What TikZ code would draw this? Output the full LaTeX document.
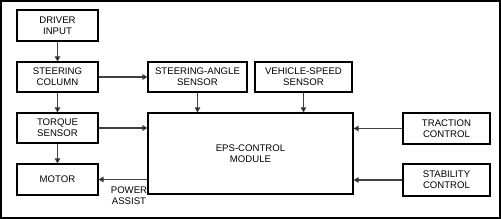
\documentclass[tikz,border=0pt]{standalone}
\usepackage{fontspec}
\setmainfont{Liberation Sans}
\usetikzlibrary{arrows.meta}
\begin{document}
\begin{tikzpicture}[x=1pt,y=-1pt,
  blk/.style={draw=black,line width=1.1pt,align=center,inner sep=0pt,
    font=\fontsize{9.6}{11}\selectfont},
  conn/.style={draw=black!75,line width=1.1pt,-{Triangle[width=5.5pt,length=5pt,fill=black]}}]
\useasboundingbox (0,0) rectangle (501,219);
\draw[line width=1.5pt] (1,1) rectangle (500,218);
\node[blk,minimum width=81pt,minimum height=31pt] (drv) at (57.5,25.5) {DRIVER\\INPUT};
\node[blk,minimum width=81pt,minimum height=30pt] (col) at (57.5,77) {STEERING\\COLUMN};
\node[blk,minimum width=99pt,minimum height=30pt] (sa) at (197.5,77) {STEERING-ANGLE\\SENSOR};
\node[blk,minimum width=97pt,minimum height=30pt] (vs) at (303.5,77) {VEHICLE-SPEED\\SENSOR};
\node[blk,minimum width=81pt,minimum height=30pt] (tq) at (57.5,128) {TORQUE\\SENSOR};
\node[blk,minimum width=81pt,minimum height=31pt] (mot) at (57.5,179.5) {MOTOR};
\node[blk,minimum width=205pt,minimum height=81pt] (eps) at (250.5,153.5) {EPS-CONTROL\\MODULE};
\node[blk,minimum width=87pt,minimum height=31pt] (tc) at (446.5,128.5) {TRACTION\\CONTROL};
\node[blk,minimum width=87pt,minimum height=32pt] (sc) at (446.5,180) {STABILITY\\CONTROL};
\node[align=center,inner sep=0pt,font=\fontsize{9.6}{11}\selectfont] (pa) at (129,196) {POWER\\ASSIST};
\draw[conn] (drv) -- (col);
\draw[conn] (col) -- (sa);
\draw[conn] (col) -- (tq);
\draw[conn] (tq) -- (mot);
\draw[conn] (sa.south) -- (sa.south |- eps.north);
\draw[conn] (vs.south) -- (vs.south |- eps.north);
\draw[conn] (tq.east) -- (tq.east -| eps.west);
\draw[conn] (eps.west |- mot.east) -- (mot.east);
\draw[conn] (tc.west) -- (tc.west -| eps.east);
\draw[conn] (sc.west) -- (sc.west -| eps.east);
\end{tikzpicture}
\end{document}
